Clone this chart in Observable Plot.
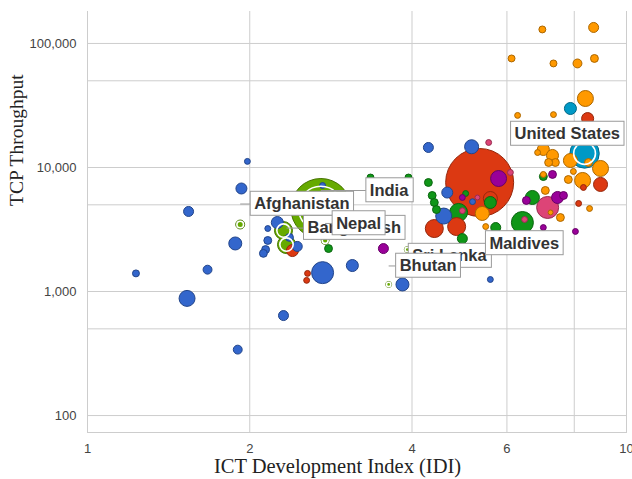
<!DOCTYPE html>
<html>
<head>
<meta charset="utf-8">
<script src="https://cdn.jsdelivr.net/npm/d3@7"></script>
<script src="https://cdn.jsdelivr.net/npm/@observablehq/plot@0.6"></script>
<style>
  body { margin: 0; background: #fff; }
</style>
</head>
<body>
<div id="chart"></div>
<script>
// ---- data ----
const region = [
  // Africa
  "Africa","Africa","Africa","Africa","Africa","Africa","Africa","Africa","Africa","Africa","Africa","Africa","Africa",
  "Africa","Africa","Africa","Africa","Africa","Africa","Africa","Africa","Africa","Africa","Africa","Africa","Africa",
  // South Asia
  "South Asia","South Asia","South Asia","South Asia","South Asia","South Asia","South Asia","South Asia",
  // Americas
  "Americas","Americas","Americas","Americas","Americas","Americas","Americas","Americas","Americas","Americas",
  "Americas","Americas","Americas","Americas","Americas",
  // East Asia
  "East Asia","East Asia","East Asia","East Asia","East Asia","East Asia","East Asia","East Asia","East Asia","East Asia","East Asia",
  // Europe
  "Europe","Europe","Europe","Europe","Europe","Europe","Europe","Europe","Europe","Europe","Europe","Europe","Europe","Europe",
  "Europe","Europe","Europe","Europe","Europe","Europe","Europe","Europe","Europe","Europe","Europe","Europe","Europe",
  // Middle East
  "Middle East","Middle East","Middle East","Middle East","Middle East","Middle East","Middle East","Middle East","Middle East",
  // Oceania
  "Oceania","Oceania","Oceania","Oceania","Oceania","Oceania",
  // North America
  "North America","North America"
];
const country = [
  "","","","","","","","","","","","","","","","","","","","","","","","","","",
  "Afghanistan","","Bangladesh","India","Nepal","Bhutan","Sri Lanka","Maldives",
  "","","","","","","","","","","","","","","",
  "","","","","","","","","","","",
  "","","","","","","","","","","","","","","","","","","","","","","","","","","",
  "","","","","","","","","",
  "","","","","","",
  "","United States"
];
const idi = [
  1.23,1.53,1.54,1.67,1.90,1.88,1.93,1.98,2.16,2.16,2.14,2.12,2.25,
  2.37,2.45,2.31,2.73,3.10,3.84,5.59,2.73,4.29,5.16,4.65,4.58,5.18,
  1.92,2.31,2.34,2.71,2.76,3.62,3.92,5.64,
  3.35,3.94,4.29,4.36,4.40,4.44,4.88,5.59,5.03,6.69,
  6.41,5.72,7.01,2.80,4.96,
  5.34,4.40,4.84,2.40,2.56,2.55,8.95,8.47,8.15,8.32,5.59,
  6.98,8.69,6.12,7.32,8.11,8.72,8.39,6.28,7.32,6.84,7.01,7.29,7.38,7.17,
  7.87,8.95,8.29,7.80,7.97,7.01,7.07,7.54,8.54,5.40,5.48,8.50,7.23,
  5.79,7.29,7.45,7.64,6.52,7.01,8.04,4.96,3.54,
  7.14,6.47,5.55,6.09,5.29,4.96,
  7.87,8.36
];
const tcp = [
  1400,880,4420,1500,340,2440,6770,11200,3220,2580,2180,2030,3600,
  2730,2310,640,1420,1620,1140,1250,7160,14500,14700,6280,4060,5300,
  3470,3100,2390,4670,2580,1140,2180,2310,
  8300,8300,7570,5950,5220,4580,4340,5220,6170,5730,
  3600,3280,8450,2220,2670,
  7570,3220,3340,2140,1400,1230,7300,24800,5130,6900,5620,
  129700,134600,75700,69000,69000,75700,36000,26300,26700,13200,13970,12500,10970,10970,
  11380,9820,7860,8000,9290,8790,6530,3950,4670,4260,3340,10970,4340,
  8150,8790,5730,5950,5420,3280,3050,5730,2220,
  4760,3810,15900,9120,5730,4480,
  29900,12970
];
const size = [
  14,74,29,23,23,49,35,10,10,18,18,18,42,
  18,29,29,140,42,49,10,10,29,57,35,74,10,
  23,94,94,1043,18,10,10,10,
  14,14,18,18,18,18,94,42,10,57,
  140,29,18,18,29,
  1340,94,94,42,10,10,57,42,10,10,57,
  14,29,14,14,23,18,74,10,10,10,42,42,18,18,
  57,74,74,18,10,10,18,18,10,57,10,18,7,
  74,18,42,18,18,10,10,10,29,
  140,10,10,10,7,10,
  42,250
];
const regions = ["Africa","South Asia","Americas","East Asia","Europe","Middle East","Oceania","North America"];
const regionColors = ["#3366cc","#66aa00","#109618","#dc3912","#ff9900","#990099","#dd4477","#0099c6"];
const xTicks = [1, 2, 4, 6, 8, 10];
const yTicks = [100, 500, 1000, 5000, 10000, 50000, 100000];
const labelOrder = ["Afghanistan","India","Bangladesh","Nepal","Sri Lanka","Bhutan","Maldives","United States"];

// ---- label placement (pixel offsets of the label text from its bubble) ----
const labelOffset = {
  "Afghanistan": [14, -20.5],
  "India": [49, -18],
  "Bangladesh": [21, -16.5],
  "Nepal": [11, -17],
  "Sri Lanka": [5, 6.5],
  "Bhutan": [11, -18.5],
  "Maldives": [-3, -3],
  "United States": [-70, -19.5]
};

const fillOf = Object.fromEntries(regions.map((r, i) => [r, regionColors[i]]));
const strokeOf = Object.fromEntries(regions.map((r, i) => [r, d3.color(regionColors[i]).darker(1.1).formatHex()]));

const data = idi.map((x, i) => ({x, y: tcp[i], s: size[i], region: region[i], name: country[i]}))
  .sort((a, b) => b.s - a.s);
const selected = data.filter(d => d.region === "South Asia" || d.name === "United States");

const labelMarks = labelOrder.map(name => {
  const d = data.find(e => e.name === name);
  const [dx, dy] = labelOffset[name];
  return Plot.text([d], {
    x: "x", y: "y", text: "name", dx, dy,
    textAnchor: "start", lineAnchor: "middle",
    fontSize: 16.5, fontWeight: "bold", fill: "#333",
    fontFamily: "Liberation Sans, Arial, sans-serif"
  });
});

const plot = Plot.plot({
  width: 632,
  height: 479,
  marginLeft: 87,
  marginRight: 6,
  marginTop: 11,
  marginBottom: 47,
  style: {fontFamily: "Liberation Sans, Arial, sans-serif", background: "white", overflow: "visible"},
  x: {type: "log", domain: [1, 10]},
  y: {type: "log", domain: [73, 181000]},
  r: {type: "sqrt", domain: [0, 1340], range: [0, 34]},
  color: {type: "identity"},
  marks: [
    Plot.gridX(xTicks, {stroke: "#cdcdcd", strokeOpacity: 1}),
    Plot.gridY(yTicks, {stroke: "#cdcdcd", strokeOpacity: 1}),
    Plot.frame({anchor: "bottom", stroke: "#cdcdcd"}),
    Plot.axisX(xTicks, {tickSize: 0, tickPadding: 11, fontSize: 13, fill: "#444", label: null, tickFormat: d3.format("d")}),
    Plot.axisY(yTicks, {tickSize: 0, tickPadding: 11, fontSize: 13, fill: "#444", label: null, tickFormat: d3.format(",")}),
    Plot.dot(data, {
      x: "x", y: "y", r: "s",
      fill: d => fillOf[d.region],
      stroke: d => strokeOf[d.region],
      strokeWidth: 1,
      fillOpacity: 1
    }),
    Plot.dot(selected, {
      x: "x", y: "y", r: d => d.s * 0.55,
      fill: "none", stroke: "white", strokeWidth: 1.6
    }),
    ...labelMarks,
    Plot.text(["ICT Development Index (IDI)"], {
      frameAnchor: "bottom", dx: -19.5, dy: 34, lineAnchor: "middle",
      fontFamily: "Liberation Serif, Times New Roman, serif", fontSize: 20.5, fill: "#222"
    }),
    Plot.text(["TCP Throughput"], {
      frameAnchor: "left", dx: -71, dy: -16, rotate: -90, lineAnchor: "middle",
      fontFamily: "Liberation Serif, Times New Roman, serif", fontSize: 19.5, fill: "#222"
    })
  ]
});

document.getElementById("chart").append(plot);

// label boxes and leader lines behind each label text
const NS = "http://www.w3.org/2000/svg";
Array.from(plot.querySelectorAll("text"))
  .filter(t => labelOrder.includes(t.textContent.trim()))
  .forEach(t => {
    const name = t.textContent.trim();
    const [dx, dy] = labelOffset[name];
    const b = t.getBBox();
    const bx = b.x - 4, by = b.y - 3, bw = b.width + 8, bh = b.height + 6;
    const tx = +(t.getAttribute("x") || 0), ty = +(t.getAttribute("y") || 0);
    const px = tx - dx, py = ty - dy;
    const cx = Math.max(bx, Math.min(px, bx + bw));
    const cy = Math.max(by, Math.min(py, by + bh));
    const line = document.createElementNS(NS, "line");
    line.setAttribute("x1", px); line.setAttribute("y1", py);
    line.setAttribute("x2", cx); line.setAttribute("y2", cy);
    line.setAttribute("stroke", "#999");
    const rect = document.createElementNS(NS, "rect");
    rect.setAttribute("x", bx); rect.setAttribute("y", by);
    rect.setAttribute("width", bw); rect.setAttribute("height", bh);
    rect.setAttribute("fill", "white");
    rect.setAttribute("stroke", "#9a9a9a");
    rect.setAttribute("stroke-width", 1);
    const tr = t.getAttribute("transform");
    if (tr) { rect.setAttribute("transform", tr); line.setAttribute("transform", tr); }
    t.parentNode.insertBefore(line, t);
    t.parentNode.insertBefore(rect, t);
  });
</script>
</body>
</html>
